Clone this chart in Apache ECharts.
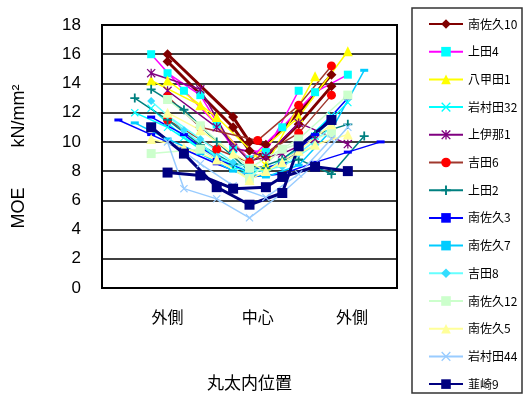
<!DOCTYPE html>
<html>
<head>
<meta charset="utf-8">
<script src="https://cdn.jsdelivr.net/npm/echarts@6/dist/echarts.min.js"></script>
<style>
  html, body { margin: 0; padding: 0; background: #fff; }
  #chart { width: 525px; height: 396px; }
</style>
</head>
<body>
<div id="chart"></div>
<script>
// x: position across the log (0..18), y: MOE kN/mm2 ; two profiles per log
const minamisaku10X = [[4, 8, 9, 10, 12, 14], [4, 8, 9, 10, 12, 14]];
const minamisaku10Y = [[16, 11.7, 10, 9.8, 12, 14.6], [15.5, 11, 9.4, 9, 11.2, 13.8]];
const ueda4X = [[3, 5, 7, 9, 11, 13, 15], [4, 6, 8, 10, 12]];
const ueda4Y = [[16, 13.5, 11.2, 8.8, 11, 13.4, 14.6], [14.7, 13.2, 9.5, 9.3, 13.5]];
const hakkoda1X = [[3, 6, 9, 12, 15], [4, 7, 10, 13]];
const hakkoda1Y = [[14.2, 12.5, 8.7, 11.7, 16.2], [14.2, 11.7, 8.4, 14.5]];
const iwamurada32X = [[2, 4, 6, 8, 10, 12, 14], [3, 5, 7, 9, 11, 13, 15]];
const iwamurada32Y = [[12, 11, 9.5, 8.2, 8, 9.6, 11.8], [12.3, 10.3, 9, 7.8, 8.6, 10.4, 12.7]];
const kamiina1X = [[3, 6, 8, 10, 12, 15], [4, 7, 9, 11, 13]];
const kamiina1Y = [[14.7, 13.6, 9.6, 9, 11.3, 9.85], [13.5, 11, 8.7, 9.2, 10.2]];
const yoshida6X = [[4, 6, 9.5, 12, 14], [4, 7, 9, 12, 14]];
const yoshida6Y = [[13.1, 11, 10.1, 12.5, 15.2], [11.5, 9.5, 8.6, 10.6, 13.2]];
const ueda2X = [[3, 5, 7, 9, 11, 13, 15], [2, 4, 6, 8, 10, 12, 14, 16]];
const ueda2Y = [[13.6, 12.2, 10, 8, 8.8, 10.5, 11.2], [13, 11.5, 9.8, 8.5, 8.2, 8.8, 7.8, 10.4]];
const minamisaku3X = [[1, 3, 5, 7, 9, 11, 13, 15, 17], [3, 5, 7, 9, 11, 13, 15]];
const minamisaku3Y = [[11.5, 10.5, 9.5, 8.5, 7.6, 7.8, 8.6, 9.3, 10], [11.7, 10.5, 8.8, 8, 8.5, 10.5, 13]];
const minamisaku7X = [[2, 4, 6, 8, 10, 12, 14, 16]];
const minamisaku7Y = [[11.3, 10.2, 9.2, 8, 7.6, 8.4, 10.8, 14.9]];
const yoshida8X = [[3, 5, 7, 9, 11, 13], [4, 6, 8, 10, 12, 14]];
const yoshida8Y = [[12.8, 10.8, 9, 8, 8.3, 9.8], [11.8, 10.2, 8.6, 7.9, 9.2, 11]];
const minamisaku12X = [[3, 6, 9, 11, 14], [4, 6, 9, 12, 15]];
const minamisaku12Y = [[9.2, 9.5, 7.5, 9.5, 10.6], [12.9, 11.1, 8.2, 10.2, 13.2]];
const minamisaku5X = [[3, 5, 7, 9, 11, 13, 15], [4, 6, 8, 10, 12, 14]];
const minamisaku5Y = [[10.2, 9.6, 8.8, 7.4, 8.6, 9.8, 10.5], [12, 10.8, 9.2, 8, 9.4, 11.2]];
const iwamurada44X = [[4, 5, 7, 9, 11, 13, 15], [3, 6, 8, 10, 12, 14]];
const iwamurada44Y = [[10, 6.8, 6.1, 4.8, 6.5, 8.5, 11], [11, 8.5, 7, 6.2, 7.8, 10.2]];
const nirasaki9X = [[3, 5, 7, 9, 11, 12, 14], [4, 6, 8, 10, 11, 13, 15]];
const nirasaki9Y = [[11, 9.2, 6.9, 5.7, 6.5, 9.7, 11.5], [7.9, 7.7, 6.8, 6.9, 7.6, 8.3, 8.0]];

const seriesNames = ['南佐久10', '上田4', '八甲田1', '岩村田32', '上伊那1', '吉田6', '上田2',
  '南佐久3', '南佐久7', '吉田8', '南佐久12', '南佐久5', '岩村田44', '韮崎9'];
const xLabelPos = [4, 9.5, 15.25];
const xLabels = ['外側', '中心', '外側'];

const allX = [minamisaku10X, ueda4X, hakkoda1X, iwamurada32X, kamiina1X, yoshida6X, ueda2X,
  minamisaku3X, minamisaku7X, yoshida8X, minamisaku12X, minamisaku5X, iwamurada44X, nirasaki9X];
const allY = [minamisaku10Y, ueda4Y, hakkoda1Y, iwamurada32Y, kamiina1Y, yoshida6Y, ueda2Y,
  minamisaku3Y, minamisaku7Y, yoshida8Y, minamisaku12Y, minamisaku5Y, iwamurada44Y, nirasaki9Y];

// marker shapes
const PLUS = 'path://M4,0H6V4H10V6H6V10H4V6H0V4H4Z';
const CROSS = 'path://M1,0L5,4L9,0L10,1L6,5L10,9L9,10L5,6L1,10L0,9L4,5L0,1Z';
const STAR = 'path://M1,0L5,4L9,0L10,1L6,5L10,9L9,10L5,6L1,10L0,9L4,5L0,1Z M4.3,0H5.7V10H4.3Z';

const styles = [
  { line: '#800000', mark: '#800000', symbol: 'diamond', size: 10, width: 3 },
  { line: '#FF00FF', mark: '#00FFFF', symbol: 'rect', size: 8, width: 1.5 },
  { line: '#FFFF00', mark: '#FFFF00', symbol: 'triangle', size: 10, width: 1.5 },
  { line: '#00FFFF', mark: '#00FFFF', symbol: CROSS, size: 8, width: 1.5 },
  { line: '#800080', mark: '#800080', symbol: STAR, size: 9, width: 1.5 },
  { line: '#A0382E', mark: '#FF0000', symbol: 'circle', size: 9, width: 1.5 },
  { line: '#008080', mark: '#008080', symbol: PLUS, size: 9, width: 1.5 },
  { line: '#0000FF', mark: '#0000FF', symbol: 'rect', size: [8, 3], width: 1.5 },
  { line: '#00CCFF', mark: '#00CCFF', symbol: 'rect', size: [8, 3], width: 1.5 },
  { line: '#66FFFF', mark: '#33DDFF', symbol: 'diamond', size: 8, width: 1.5 },
  { line: '#CCFFCC', mark: '#CCFFCC', symbol: 'rect', size: 9, width: 1.5 },
  { line: '#FFFF99', mark: '#FFFF99', symbol: 'triangle', size: 10, width: 1.5 },
  { line: '#99CCFF', mark: '#99CCFF', symbol: CROSS, size: 8, width: 1.5 },
  { line: '#000080', mark: '#000080', symbol: 'rect', size: 10, width: 3 },
];

const series = [];
seriesNames.forEach((name, i) => {
  const st = styles[i];
  allX[i].forEach((xs, p) => {
    series.push({
      name: name,
      type: 'line',
      data: xs.map((x, k) => [x, allY[i][p][k]]),
      symbol: st.symbol,
      symbolSize: st.size,
      showSymbol: true,
      lineStyle: { color: st.line, width: st.width },
      itemStyle: { color: st.mark },
      emphasis: { disabled: true },
      animation: false,
    });
  });
});

const chart = echarts.init(document.getElementById('chart'));
chart.setOption({
  animation: false,
  backgroundColor: '#fff',
  grid: {
    left: 102, top: 25, right: 128, bottom: 106,
    show: true, borderColor: '#000', borderWidth: 2,
  },
  legend: {
    data: seriesNames,
    orient: 'vertical',
    left: 428, top: 17, padding: 0,
    itemWidth: 34, itemHeight: 12, itemGap: 13.7,
    textStyle: { fontSize: 12, lineHeight: 14, color: '#000', fontFamily: 'Noto Sans CJK JP' },
  },
  graphic: [{
    type: 'rect',
    shape: { x: 412, y: 8, width: 110, height: 385 },
    style: { fill: 'none', stroke: '#333', lineWidth: 1.5 },
    silent: true,
  }],
  xAxis: {
    type: 'value', min: 0, max: 18,
    name: '丸太内位置', nameLocation: 'middle', nameGap: 86,
    nameTextStyle: { fontSize: 17, color: '#000', fontFamily: 'Noto Sans CJK JP' },
    axisLine: { show: false },
    axisTick: { show: false },
    splitLine: { show: false },
    axisLabel: {
      customValues: xLabelPos,
      formatter: (v) => { const j = xLabelPos.indexOf(v); return j >= 0 ? xLabels[j] : ''; },
      fontSize: 16, color: '#000', margin: 21, fontFamily: 'Noto Sans CJK JP',
    },
  },
  yAxis: {
    type: 'value', min: 0, max: 18, interval: 2,
    name: 'MOE        kN/mm²', nameLocation: 'middle', nameGap: 74, nameRotate: 90,
    nameTextStyle: { fontSize: 18, color: '#000', fontFamily: 'Liberation Sans' },
    axisLine: { show: false },
    axisTick: { show: false },
    splitLine: { lineStyle: { color: '#000', width: 1.5 } },
    axisLabel: { fontSize: 17, color: '#000', margin: 21, fontFamily: 'Liberation Sans' },
  },
  series: series,
});
</script>
</body>
</html>
